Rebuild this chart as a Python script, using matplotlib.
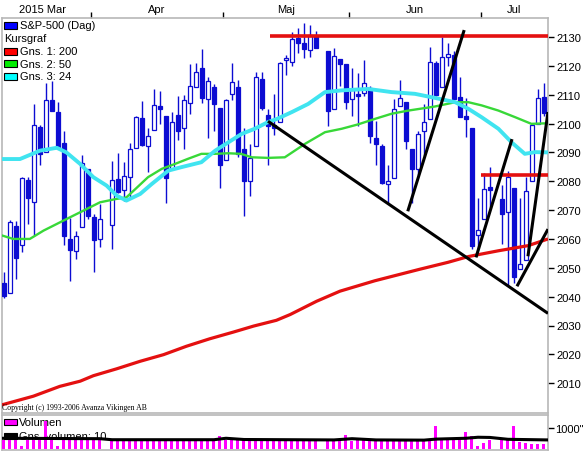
import numpy as np
import matplotlib
matplotlib.use("Agg")
import matplotlib.pyplot as plt
from matplotlib.patches import Rectangle

plt.rcParams['font.family'] = ['Liberation Sans', 'DejaVu Sans']

# ---------------- data ----------------
# one slot per weekday, 11 Mar 2015 .. 15 Jul 2015 (None = market closed)
opens = [2044.7, 2041.1, 2064.6, 2058.0, 2080.6, 2072.8, 2098.7, 2090.3, 2108.0, 2103.9,
         2093.1, 2059.9, 2055.8, 2064.1, 2084.1, 2067.6, 2060.0, None, 2064.9, 2080.8,
         2076.9, 2081.3, 2091.5, 2102.0, 2092.3, 2097.8, 2106.0, 2102.6, 2084.1, 2102.8,
         2098.3, 2107.2, 2112.8, 2119.3, 2108.4, 2112.5, 2105.5, 2087.4, 2110.2, 2112.6,
         2091.3, 2080.0, 2092.1, 2115.6, 2102.9, 2099.6, 2100.4, 2122.1, 2121.3, 2129.5,
         2127.8, 2125.6, 2130.4, None, 2125.3, 2105.1, 2122.3, 2120.7, 2108.6, 2110.4,
         2110.6, 2112.4, 2095.1, 2092.3, 2079.1, 2081.1, 2106.2, 2107.4, 2091.3, 2084.3,
         2097.4, 2101.6, 2121.1, 2112.5, 2123.2, 2123.7, 2109.1, 2102.6, 2098.6, 2061.2,
         2067.0, 2078.0, None, 2074.0, 2069.5, 2077.7, 2049.7, 2052.7, 2080.0, 2099.7,
         2109.2]
highs = [2048.5, 2066.4, 2066.3, 2081.4, 2081.5, 2106.9, 2099.5, 2113.9, 2114.9, 2107.6,
         2097.4, 2067.2, 2062.8, 2089.0, 2084.1, 2068.5, 2072.2, None, 2087.0, 2089.8,
         2086.7, 2093.3, 2102.6, 2107.7, 2098.6, 2111.9, 2111.3, 2102.6, 2103.9, 2109.6,
         2110.0, 2120.5, 2120.9, 2125.9, 2116.0, 2113.7, 2105.5, 2108.4, 2121.0, 2115.2,
         2098.4, 2092.9, 2117.7, 2117.7, 2105.1, 2110.2, 2121.5, 2123.9, 2131.8, 2133.0,
         2134.7, 2134.3, 2132.2, None, 2125.3, 2126.2, 2122.3, 2120.7, 2119.2, 2117.6,
         2121.9, 2112.9, 2101.0, 2093.0, 2085.6, 2108.5, 2115.0, 2107.4, 2091.3, 2097.4,
         2106.8, 2126.7, 2121.6, 2129.9, 2128.0, 2125.1, 2116.0, 2108.9, 2098.6, 2074.3,
         2082.8, 2085.1, None, 2078.6, 2083.7, 2077.7, 2074.3, 2081.3, 2099.9, 2112.0,
         2114.1]
lows = [2039.7, 2041.1, 2046.0, 2055.4, 2065.1, 2061.2, 2085.6, 2090.3, 2104.4, 2091.5,
        2058.0, 2045.5, 2053.0, 2064.1, 2067.0, 2048.4, 2057.3, None, 2056.5, 2076.1,
        2073.3, 2074.3, 2091.5, 2092.3, 2083.2, 2097.8, 2100.0, 2072.4, 2084.1, 2094.4,
        2091.1, 2103.2, 2112.8, 2107.0, 2094.9, 2097.4, 2077.6, 2087.4, 2108.3, 2088.5,
        2067.9, 2075.0, 2092.1, 2104.6, 2085.6, 2096.0, 2100.4, 2116.8, 2120.0, 2124.5,
        2122.6, 2123.0, 2126.1, None, 2099.2, 2105.1, 2112.9, 2104.9, 2102.5, 2099.1,
        2109.6, 2093.2, 2085.7, 2079.1, 2072.1, 2081.1, 2106.2, 2091.3, 2072.5, 2082.1,
        2088.9, 2101.6, 2109.5, 2112.5, 2119.9, 2108.6, 2102.3, 2095.4, 2056.6, 2056.3,
        2067.0, 2071.0, None, 2058.4, 2044.0, 2044.7, 2049.7, 2052.7, 2080.0, 2099.7,
        2102.5]
closes = [2040.2, 2066.0, 2053.4, 2081.2, 2074.3, 2099.5, 2089.3, 2108.1, 2104.4, 2091.5,
          2061.1, 2056.2, 2061.0, 2086.2, 2067.9, 2059.7, 2067.0, None, 2080.6, 2076.3,
          2081.9, 2091.2, 2102.1, 2092.4, 2095.8, 2106.6, 2105.0, 2081.2, 2100.4, 2097.3,
          2108.0, 2112.9, 2117.7, 2108.9, 2114.8, 2106.9, 2085.5, 2108.3, 2114.5, 2089.5,
          2080.2, 2088.0, 2116.1, 2105.3, 2099.1, 2098.5, 2121.1, 2122.7, 2129.2, 2127.8,
          2125.9, 2130.8, 2126.1, None, 2104.2, 2123.5, 2120.8, 2107.4, 2111.7, 2109.6,
          2114.1, 2095.8, 2092.8, 2079.3, 2080.2, 2105.2, 2108.9, 2094.1, 2084.4, 2096.3,
          2100.4, 2121.2, 2110.0, 2122.9, 2124.2, 2108.6, 2102.3, 2101.5, 2057.6, 2063.1,
          2077.4, 2076.8, None, 2068.8, 2081.3, 2046.7, 2051.3, 2076.6, 2099.6, 2109.0,
          2103.5]
volume = [430, 420, 430, 150, 430, 440, 440, 1380, 420, 160, 440, 430, 420, 420, 440,
          420, 440, None, 420, 410, 420, 410, 400, 410, 420, 430, 420, 480, 420, 410,
          420, 420, 420, 410, 420, 420, 640, 420, 420, 430, 430, 420, 420, 420, 410,
          410, 410, 420, 410, 400, 420, 410, 380, None, 420, 420, 430, 660, 410, 420,
          420, 430, 420, 420, 420, 420, 410, 410, 420, 420, 430, 440, 1110, 430, 420,
          420, 430, 830, 650, 140, 300, 420, None, 420, 430, 1110, 330, 300, 250, 250,
          250]

# moving averages (slot position, value)
ma24_x = [-0.33, 2.67, 6, 8.8, 10.4, 12.7, 14.9, 17.1, 18.8, 20.4, 22.7, 24.6, 27.4, 29.6,
          32.9, 35.2, 37.4, 39.6, 41.8, 44, 45.5, 48, 50.7, 53.5, 56.3, 60.7, 64.6, 68.5,
          71.8, 75.2, 77.4, 79.6, 82.4, 84.6, 86.8, 88.5, 90.67]
ma24_y = [2087.7, 2087.7, 2090.6, 2091.6, 2090.0, 2086.0, 2081.4, 2078.5, 2075.0, 2073.3,
          2075.6, 2079.0, 2083.7, 2084.9, 2086.6, 2090.6, 2093.5, 2096.4, 2098.2, 2100.5,
          2101.6, 2104.0, 2106.8, 2110.9, 2111.5, 2112.0, 2110.9, 2110.3, 2108.9, 2107.4,
          2105.1, 2102.2, 2098.2, 2093.5, 2089.5, 2090.1, 2090.0]
ma50_x = [-0.33, 1.55, 4.3, 6.6, 8.8, 11, 13.8, 16, 18.8, 20.4, 22, 24, 26.3, 28.5, 30.7,
          32.9, 35, 37.4, 39.5, 41.3, 44, 46.8, 50.2, 53.5, 56.3, 59, 61.8, 64.6, 67.4,
          71.8, 75.2, 77.4, 79.6, 82.4, 85.2, 87.9, 90.67]
ma50_y = [2061.2, 2060.0, 2060.0, 2062.9, 2065.2, 2067.5, 2070.4, 2072.7, 2073.9, 2074.4,
          2077.5, 2081.4, 2084.3, 2086.0, 2087.8, 2089.5, 2089.5, 2089.7, 2089.5, 2088.3,
          2088.1, 2088.3, 2093.0, 2097.0, 2098.2, 2099.7, 2101.6, 2103.4, 2104.5, 2105.9,
          2107.4, 2107.4, 2106.3, 2104.5, 2102.2, 2099.9, 2100.1]
ma200_x = [-0.33, 4.9, 9.3, 12.7, 14.9, 18.8, 22.7, 26.6, 30.4, 34.3, 38.2, 41.6, 45.4,
           47.7, 52.1, 56, 61.8, 69.3, 74, 77.4, 82.4, 87.4, 90.67]
ma200_y = [2002.5, 2005.5, 2008.9, 2010.7, 2012.6, 2015.0, 2017.6, 2019.9, 2022.8, 2025.4,
           2027.7, 2029.8, 2031.8, 2033.8, 2038.4, 2041.9, 2045.5, 2049.5, 2051.9, 2053.9,
           2055.9, 2057.7, 2060.0]
volma_x = [-0.33, 16, 18, 35, 37, 40, 55, 58, 62, 70, 72, 77, 79, 81, 84, 90.67]
volma_y = [520, 500, 450, 450, 520, 460, 440, 500, 440, 430, 480, 520, 570, 560, 470, 440]

# drawn trend lines (slot, price) pairs
trend_lines = [((44.0, 2100.8), (90.67, 2034.2)),
               ((67.3, 2069.6), (76.7, 2132.4)),
               ((78.67, 2053.6), (84.67, 2094.6)),
               ((87.33, 2054.0), (90.67, 2104.0)),
               ((85.5, 2043.6), (90.67, 2063.4))]
level_lines = [(44.4, 90.67, 2130.5), (79.45, 90.67, 2082.0)]

month_labels = ['2015 Mar', 'Apr', 'Maj', 'Jun', 'Jul']
month_centers = [6.5, 25.5, 47, 68.5, 85]
month_bounds = [14.5, 36.5, 57.5, 79.5]
price_ticks = list(range(2010, 2131, 10))

# ---------------- figure ----------------
W, H = 583, 452
fig = plt.figure(figsize=(W / 100, H / 100), dpi=100)
fig.patch.set_facecolor('white')


def rect(x0, y0, x1, y1):
    return [x0 / W, 1 - y1 / H, (x1 - x0) / W, (y1 - y0) / H]


def fx(px):
    return px / W


def fy(py):
    return 1 - py / H


FRAME = '#b8b8b8'
BLUE = '#0c0cd2'

ax = fig.add_axes(rect(1.5, 19, 548, 414))
axv = fig.add_axes(rect(1.5, 416, 548, 450.5))

x0, x1 = -1 / 3 - 0.08, 90.67
for a in (ax, axv):
    a.set_xlim(x0, x1)
    for s in a.spines.values():
        s.set_color(FRAME)
        s.set_linewidth(1.2)

ax.set_ylim(2130 - (414 - 38) / 2.885, 2130 + (38 - 19) / 2.885)

# candles
idx = np.arange(len(closes))
for i in idx:
    o, h, l, c = opens[i], highs[i], lows[i], closes[i]
    if o is None:
        continue
    ax.vlines(i, l, h, color=BLUE, lw=1.0, zorder=2)
    up = c >= o
    bot = min(o, c)
    ht = max(abs(c - o), 0.05)
    ax.bar(i, ht, bottom=bot, width=0.55, facecolor='white' if up else BLUE,
           edgecolor=BLUE, linewidth=0.9, zorder=3)

# moving averages
ax.plot(ma200_x, ma200_y, color='#e41010', lw=2.3, zorder=4, solid_capstyle='butt')
ax.plot(ma50_x, ma50_y, color='#38d838', lw=1.7, zorder=4)
ax.plot(ma24_x, ma24_y, color='#40e4f0', lw=2.8, zorder=4)

# drawn level lines and trend lines
for xs, xe, lvl in level_lines:
    ax.plot([xs, xe], [lvl, lvl], color='#e41010', lw=2.6, zorder=5, solid_capstyle='butt')
for (xa, ya), (xb, yb) in trend_lines:
    ax.plot([xa, xb], [ya, yb], color='black', lw=2.2, zorder=6, solid_capstyle='butt')

# axes ticks
ax.yaxis.tick_right()
ax.set_yticks(price_ticks)
ax.set_yticklabels([str(t) for t in price_ticks])
ax.tick_params(axis='y', direction='out', length=4, width=1, color='black',
               labelsize=8, pad=2)
ax.xaxis.tick_top()
ax.set_xticks(month_bounds)
ax.set_xticklabels([''] * len(month_bounds))
ax.set_xticks(month_centers, minor=True)
ax.set_xticklabels(month_labels, minor=True)
ax.tick_params(axis='x', which='major', direction='out', length=4, width=1, color='black')
ax.tick_params(axis='x', which='minor', length=0, labelsize=8, pad=3)

# volume panel
vx = [i for i in idx if volume[i] is not None]
vy = [volume[i] for i in vx]
axv.bar(vx, vy, width=0.5, color='#ff00ff', zorder=3, linewidth=0)
axv.plot(volma_x, volma_y, color='black', lw=2.2, zorder=4)
axv.set_ylim(-25, 1650)
axv.set_xticks([])
axv.yaxis.tick_right()
axv.set_yticks([1000])
axv.set_yticklabels(['1000"'])
axv.tick_params(axis='y', direction='out', length=4, width=1, color='black',
                labelsize=8, pad=1)

# legend (price panel)
leg = [('S&P-500 (Dag)', '#0000ff', 26), ('Kursgraf', None, 39),
       ('Gns. 1: 200', '#ff0000', 52), ('Gns. 2: 50', '#00ee00', 64.5),
       ('Gns. 3: 24', '#00ffff', 77.5)]
for txt, col, yc in leg:
    if col is not None:
        fig.patches.append(Rectangle((fx(4), fy(yc + 3.5)), 13 / W, 7 / H,
                                     transform=fig.transFigure, facecolor=col,
                                     edgecolor='black', lw=0.8, zorder=10))
        fig.text(fx(20), fy(yc), txt, fontsize=8, va='center', ha='left', zorder=10)
    else:
        fig.text(fx(4), fy(yc), txt, fontsize=8, va='center', ha='left', zorder=10)

# legend (volume panel), drawn under the bars
for txt, col, yc in [('Volumen', '#ff00ff', 423), ('Gns. volumen: 10', 'black', 437)]:
    axv.add_patch(Rectangle((fx(4), fy(yc + 3)), 13 / W, 6 / H,
                            transform=fig.transFigure, facecolor=col,
                            edgecolor='black', lw=0.8, zorder=1))
    axv.text(fx(19), fy(yc), txt, fontsize=8, va='center', ha='left',
             transform=fig.transFigure, zorder=1)

fig.text(fx(2), fy(408.5), 'Copyright (c) 1993-2006 Avanza Vikingen AB',
         fontfamily='Liberation Serif', fontsize=5.6, va='center', ha='left', zorder=10)

fig.savefig('out.png', dpi=100, facecolor='white')
